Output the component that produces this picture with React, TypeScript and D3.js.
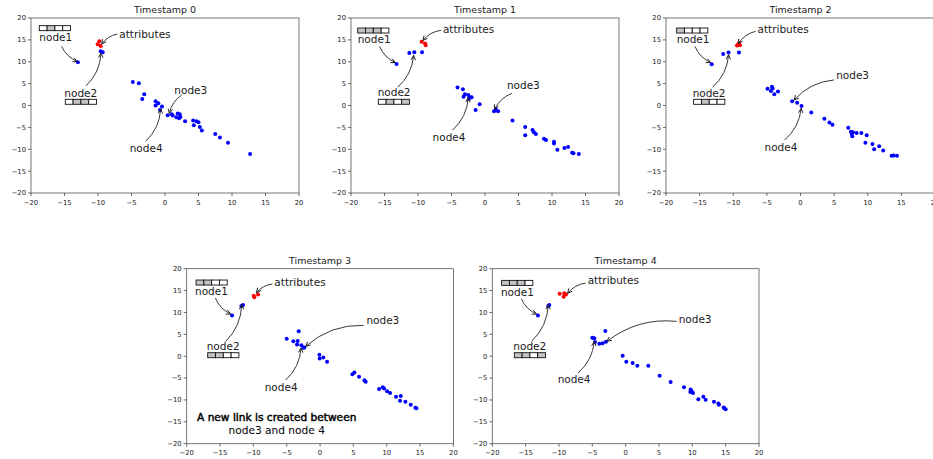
import React from 'react';
import * as d3 from 'd3';

type P = [number, number];

const tickValues = [-20, -15, -10, -5, 0, 5, 10, 15, 20];
const titles = ['Timestamp 0', 'Timestamp 1', 'Timestamp 2', 'Timestamp 3', 'Timestamp 4'];

// node embeddings (blue) per timestamp
const nodes0: P[] = [
  [-13.0, 9.9], [-9.6, 12.4], [-9.3, 12.2], [-4.8, 5.4], [-3.9, 5.1], [-3.1, 2.6], [-3.4, 1.5],
  [-1.4, 1.0], [-1.4, 0.0], [-1.0, 0.5], [-0.45, -0.2], [-0.75, -1.0], [0.4, -2.2], [1.0, -2.0],
  [1.15, -2.3], [1.9, -1.8], [2.2, -2.0], [1.7, -2.7], [2.1, -2.9], [2.3, -2.6], [3.0, -3.6],
  [4.2, -3.4], [4.3, -4.5], [4.7, -3.6], [5.0, -3.8], [5.2, -4.9], [5.5, -5.7], [7.5, -6.5],
  [8.2, -7.3], [9.4, -8.5], [12.7, -11.1],
];
const nodes1: P[] = [
  [-13.2, 9.5], [-11.3, 12.0], [-10.55, 12.2], [-9.4, 12.2], [-4.1, 4.1], [-3.3, 3.7], [-3.0, 2.6],
  [-3.2, 2.0], [-2.5, 2.4], [-2.3, 1.9], [-2.0, 1.9], [-2.4, 1.5], [-1.4, -1.0], [-0.8, 0.3],
  [1.35, -1.3], [1.6, -0.8], [1.95, -1.3], [4.1, -3.4], [6.0, -4.9], [6.0, -6.8], [7.1, -5.6],
  [7.3, -6.1], [7.6, -6.5], [8.8, -7.6], [9.1, -7.9], [10.3, -8.3], [10.3, -8.7], [10.8, -10.1],
  [11.85, -9.7], [12.4, -9.5], [13.0, -10.8], [13.2, -10.9], [14.0, -11.1],
];
const nodes2: P[] = [
  [-13.2, 9.45], [-11.5, 11.8], [-10.7, 12.1], [-9.15, 12.1], [-4.9, 3.85], [-4.4, 3.3], [-4.25, 4.3],
  [-4.15, 3.9], [-3.9, 2.6], [-3.35, 3.2], [-1.25, 1.0], [-0.5, 0.65], [0.15, -0.1], [1.6, -1.6],
  [3.55, -3.0], [4.3, -3.9], [4.75, -4.4], [7.1, -5.1], [7.5, -6.0], [7.6, -6.5], [7.7, -7.0],
  [7.8, -6.1], [8.35, -6.3], [9.05, -6.3], [9.85, -6.8], [9.65, -8.5], [10.7, -8.8], [10.95, -10.0],
  [11.7, -9.3], [12.3, -10.3], [13.55, -11.5], [13.85, -11.4], [14.35, -11.5],
];
const nodes3: P[] = [
  [-13.2, 9.3], [-11.8, 11.5], [-11.55, 11.7], [-5.0, 4.0], [-4.0, 3.4], [-3.2, 5.7], [-3.35, 3.5],
  [-3.45, 2.7], [-2.8, 2.5], [-2.5, 1.95], [-2.35, 2.0], [-0.1, 0.35], [-0.05, -0.55], [0.5, -0.3],
  [1.05, -1.25], [4.85, -4.1], [5.15, -3.7], [5.85, -4.7], [6.65, -5.5], [6.85, -5.85], [8.85, -7.5],
  [9.4, -7.1], [9.6, -7.4], [10.05, -8.0], [10.5, -8.4], [11.4, -9.25], [12.1, -9.1], [12.0, -10.2],
  [12.8, -10.4], [13.6, -11.1], [14.3, -11.8], [14.45, -11.9],
];
const nodes4: P[] = [
  [-13.15, 9.3], [-11.6, 11.5], [-11.45, 11.7], [-5.0, 4.2], [-4.7, 4.1], [-3.05, 5.75], [-4.6, 3.25],
  [-3.95, 2.85], [-3.45, 2.95], [-2.95, 3.3], [-0.45, 0.1], [0.1, -1.25], [1.05, -1.55], [1.75, -2.2],
  [3.4, -2.2], [5.1, -4.45], [6.75, -5.9], [8.75, -7.1], [9.75, -7.6], [9.7, -8.2], [9.9, -8.0],
  [10.1, -8.4], [10.9, -9.85], [11.65, -9.25], [12.0, -9.95], [13.25, -10.4], [13.9, -10.8],
  [14.0, -11.1], [14.7, -11.7], [14.8, -11.9], [15.0, -12.1],
];

// attribute embeddings (red) per timestamp
const attrs0: P[] = [[-9.8, 14.7], [-10.05, 14.0], [-9.6, 13.6]];
const attrs1: P[] = [[-9.46, 14.6], [-8.95, 14.2], [-8.85, 13.8]];
const attrs2: P[] = [[-9.45, 13.7], [-9.15, 14.3], [-9.0, 13.8], [-9.3, 13.9]];
const attrs3: P[] = [[-9.95, 13.8], [-9.85, 13.5], [-9.3, 14.1]];
const attrs4: P[] = [[-9.9, 14.3], [-9.2, 14.4], [-9.3, 13.6], [-8.95, 14.1]];

// annotations: label, text x, text y, arrow from x, y, arrow to x, y (data coords)
type Note = [string, number, number, number, number, number, number];
const notes0: Note[] = [
  ['node1', -18.76, 15.65, -15.42, 13.5, -13.08, 10.06],
  ['attributes', -6.82, 16.34, -7.11, 16.34, -9.45, 14.04],
  ['node2', -15.02, 2.79, -11.79, 4.48, -9.55, 11.97],
  ['node3', 1.39, 3.56, 2.49, 2.41, 0.65, -1.8],
  ['node4', -5.27, -9.83, -2.89, -8.19, -0.65, -0.8],
];
const notes1: Note[] = [
  ['node1', -19.0, 15.19, -15.72, 13.5, -13.39, 9.83],
  ['attributes', -6.28, 17.33, -6.57, 17.18, -9.26, 14.88],
  ['node2', -16.02, 2.95, -13.04, 4.17, -10.65, 11.44],
  ['node3', 3.27, 4.63, 4.02, 2.79, 1.43, -0.88],
  ['node4', -7.82, -7.31, -4.83, -5.62, -2.5, 1.8],
];
const notes2: Note[] = [
  ['node1', -18.42, 15.19, -15.69, 13.5, -13.37, 9.83],
  ['attributes', -6.39, 17.33, -6.68, 16.95, -9.26, 14.12],
  ['node2', -16.04, 2.79, -13.07, 4.17, -10.69, 11.59],
  ['node3', 5.3, 6.92, 5.0, 5.85, -0.94, 1.26],
  ['node4', -5.35, -9.6, -2.38, -7.92, 0.1, -0.65],
];
const notes3: Note[] = [
  ['node1', -18.75, 14.74, -15.7, 13.3, -13.4, 9.64],
  ['attributes', -6.85, 16.88, -7.15, 16.5, -9.55, 14.51],
  ['node2', -17.0, 2.17, -14.15, 3.39, -11.75, 11.77],
  ['node3', 6.95, 8.11, 6.55, 7.05, -2.15, 2.25],
  ['node4', -8.3, -7.12, -5.15, -5.45, -2.85, 1.87],
];
const notes4: Note[] = [
  ['node1', -18.7, 14.67, -15.65, 13.14, -13.35, 9.64],
  ['attributes', -5.7, 17.26, -6.0, 16.72, -8.7, 14.36],
  ['node2', -16.85, 2.17, -14.1, 3.39, -11.6, 11.77],
  ['node3', 7.95, 8.34, 7.65, 7.96, -2.8, 3.39],
  ['node4', -10.2, -5.3, -7.15, -3.85, -4.7, 3.39],
];

// feature-vector glyphs: left x, top y, filled cells
type Box = [number, number, number[]];
const boxes0: Box[] = [[-18.76, 18.25, [0, 1, 0, 0]], [-14.88, 1.42, [0, 1, 1, 0]]];
const boxes1: Box[] = [[-19.0, 17.71, [1, 1, 1, 0]], [-15.92, 1.42, [0, 1, 0, 1]]];
const boxes2: Box[] = [[-18.42, 17.71, [1, 0, 0, 0]], [-15.89, 1.42, [0, 1, 0, 0]]];
const boxes3: Box[] = [[-18.6, 17.41, [1, 1, 0, 0]], [-16.85, 0.8, [1, 1, 0, 0]]];
const boxes4: Box[] = [[-18.6, 17.33, [1, 1, 1, 0]], [-16.7, 0.8, [1, 1, 0, 1]]];

const captionLines = ['A new link is created between', 'node3 and node 4'];
const captionX = -6.5;
const captionY = [-13.98, -17.03];

const nodeSets = [nodes0, nodes1, nodes2, nodes3, nodes4];
const attrSets = [attrs0, attrs1, attrs2, attrs3, attrs4];
const noteSets = [notes0, notes1, notes2, notes3, notes4];
const boxSets = [boxes0, boxes1, boxes2, boxes3, boxes4];

const frames = [
  { left: 31, top: 18, w: 268, h: 175 },
  { left: 351, top: 18, w: 268, h: 175 },
  { left: 666, top: 18, w: 269, h: 175 },
  { left: 186.7, top: 268.7, w: 266.7, h: 175 },
  { left: 492.3, top: 268.7, w: 266.7, h: 175 },
];

const FONT = 'DejaVu Sans, sans-serif';
const TXT = '#1a1a1a';

function fmt(v: number) {
  return v < 0 ? '\u2212' + Math.abs(v) : String(v);
}

function Panel({ i }: { i: number }) {
  const f = frames[i];
  const x = d3.scaleLinear().domain([-20, 20]).range([0, f.w]);
  const y = d3.scaleLinear().domain([-20, 20]).range([f.h, 0]);
  const rad = 0.2;
  const cellW = 7.8;
  const cellH = 5;
  return (
    <g transform={`translate(${f.left},${f.top})`}>
      <text x={f.w / 2} y={-5} textAnchor="middle" fontSize={9.5} fill={TXT} fontFamily={FONT}>
        {titles[i]}
      </text>
      {/* y axis ticks */}
      {tickValues.map((t) => (
        <g key={'y' + t}>
          <line x1={-3} x2={0} y1={y(t)} y2={y(t)} stroke="#444" strokeWidth={0.8} />
          <text x={-5} y={y(t)} dy="0.35em" textAnchor="end" fontSize={6.8} fill={TXT} fontFamily={FONT}>
            {fmt(t)}
          </text>
        </g>
      ))}
      {tickValues.map((t) => (
        <g key={'x' + t}>
          <line x1={x(t)} x2={x(t)} y1={f.h} y2={f.h + 3} stroke="#444" strokeWidth={0.8} />
          <text x={x(t)} y={f.h + 11.5} textAnchor="middle" fontSize={6.8} fill={TXT} fontFamily={FONT}>
            {fmt(t)}
          </text>
        </g>
      ))}
      <rect x={0} y={0} width={f.w} height={f.h} fill="none" stroke="#555" strokeWidth={0.8} />
      {nodeSets[i].map((p, k) => (
        <circle key={'n' + k} cx={x(p[0])} cy={y(p[1])} r={2} fill="#0000ff" />
      ))}
      {attrSets[i].map((p, k) => (
        <circle key={'a' + k} cx={x(p[0])} cy={y(p[1])} r={2} fill="#ff0000" />
      ))}
      {boxSets[i].map((b, k) => (
        <g key={'b' + k}>
          {b[2].map((c, j) => (
            <rect
              key={j}
              x={x(b[0]) + j * cellW}
              y={y(b[1])}
              width={cellW}
              height={cellH}
              fill={c ? '#c4c4c4' : '#ffffff'}
              stroke="#111"
              strokeWidth={0.9}
            />
          ))}
        </g>
      ))}
      {noteSets[i].map((n, k) => {
        const sx = x(n[3]);
        const sy = y(n[4]);
        const ex = x(n[5]);
        const ey = y(n[6]);
        const dx = ex - sx;
        const dy = ey - sy;
        const cx = (sx + ex) / 2 - rad * dy;
        const cy = (sy + ey) / 2 + rad * dx;
        const path = d3.path();
        path.moveTo(sx, sy);
        path.quadraticCurveTo(cx, cy, ex, ey);
        let ux = ex - cx;
        let uy = ey - cy;
        const len = Math.hypot(ux, uy) || 1;
        ux /= len;
        uy /= len;
        const L = 4.5;
        const W = 2.2;
        const head = `M${ex - L * ux - W * uy},${ey - L * uy + W * ux}L${ex},${ey}L${ex - L * ux + W * uy},${ey - L * uy - W * ux}`;
        return (
          <g key={'t' + k}>
            <text
              x={x(n[1])}
              y={y(n[2])}
              dy="0.35em"
              fontSize={10.5}
              fill={TXT}
              fontFamily={FONT}
            >
              {n[0]}
            </text>
            <path d={path.toString()} fill="none" stroke="#222" strokeWidth={0.9} />
            <path d={head} fill="none" stroke="#222" strokeWidth={1} />
          </g>
        );
      })}
      {i === 3 &&
        captionLines.map((s, k) => (
          <text
            key={'c' + k}
            x={x(captionX)}
            y={y(captionY[k])}
            dy="0.35em"
            textAnchor="middle"
            fontSize={10.6}
            fill="#000"
            stroke={k === 0 ? '#000' : 'none'}
            strokeWidth={k === 0 ? 0.45 : 0}
            fontFamily={FONT}
          >
            {s}
          </text>
        ))}
    </g>
  );
}

export default function App() {
  return (
    <svg
      width={933}
      height={459}
      style={{ position: 'absolute', left: 0, top: 0, background: '#fff' }}
    >
      <rect x={0} y={0} width={933} height={459} fill="#fff" />
      {frames.map((_, i) => (
        <Panel key={i} i={i} />
      ))}
    </svg>
  );
}
